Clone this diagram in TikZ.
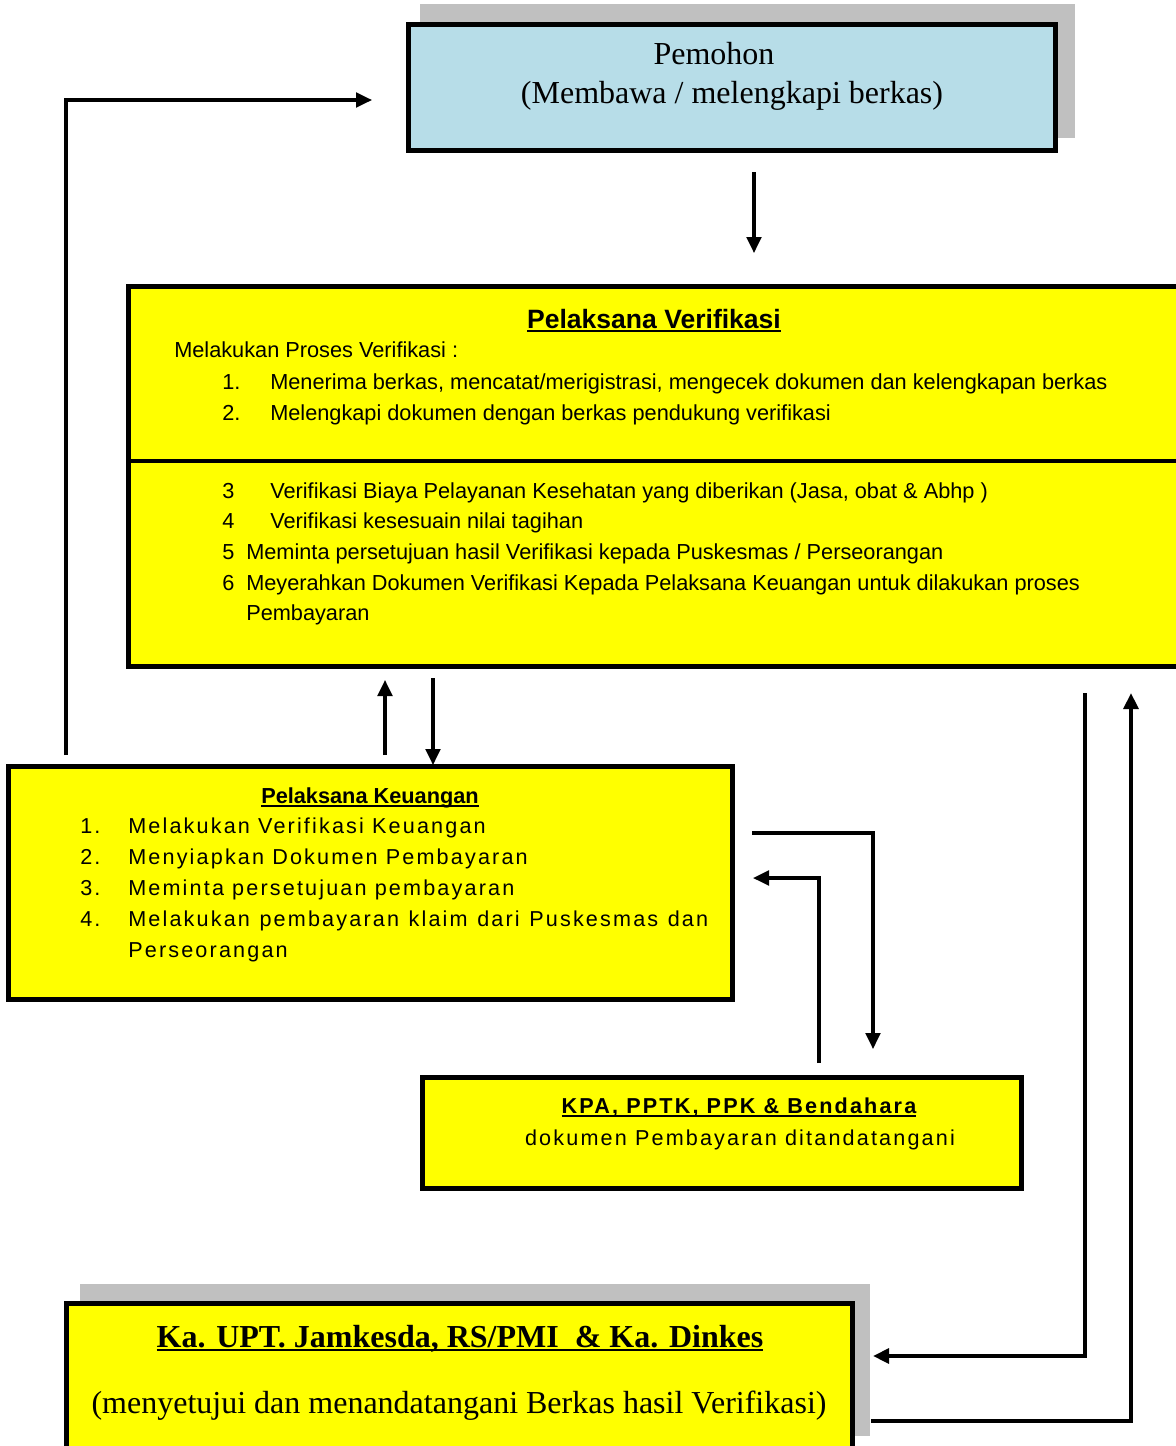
\documentclass[tikz,border=0pt]{standalone}
\usepackage{fontspec}
\setmainfont{Liberation Serif}
\setsansfont{Liberation Sans}
\newfontfamily\spasi[LetterSpace=10.0]{Liberation Sans}
\usetikzlibrary{arrows.meta,fit}

\definecolor{kuning}{HTML}{FFFF00}
\definecolor{birumuda}{HTML}{B7DDE8}
\definecolor{bayang}{HTML}{C0C0C0}

% garis bawah tebal seperti di Word
\newcommand{\gbawah}[1]{\setbox0=\hbox{#1}\rlap{\rule[-3pt]{\wd0}{1.5pt}}\box0}

\begin{document}
\begin{tikzpicture}[x=0.75pt,y=-0.75pt,
  kotak/.style={draw=black, line width=3.6pt, inner sep=0pt},
  panah/.style={line width=2.3pt, -{Triangle[length=12pt,width=11pt]}},
  serif/.style={anchor=base, inner sep=0pt, font=\fontsize{24}{28}\selectfont},
  judul/.style={anchor=base, inner sep=0pt, font=\sffamily\bfseries\fontsize{19.9}{23}\selectfont},
  judulkecil/.style={anchor=base, inner sep=0pt, font=\sffamily\bfseries\fontsize{16.3}{19}\selectfont},
  isi/.style={anchor=base west, inner sep=0pt, font=\sffamily\fontsize{16.3}{19}\selectfont},
  isispasi/.style={inner sep=0pt, font=\spasi\fontsize{16.2}{19}\selectfont}]
\useasboundingbox (0,0) rectangle (1176,1446);
\clip (0,0) rectangle (1176,1446);

% Pemohon
\fill[bayang] (420,4) rectangle (1075,138);
\node[kotak, fill=birumuda, fit={(408.5,24.5) (1055.5,150.5)}] (pem) {};
\node[serif] (pemA) at (714,64) {Pemohon};
\node[serif] (pemB) at (732,103) {(Membawa / melengkapi berkas)};

% Pelaksana Verifikasi
\node[kotak, fill=kuning, fit={(128.5,286.5) (1210,666.5)}] (ver) {};
\coordinate (pisah) at (0,461);
\draw[line width=3.6pt] (ver.west |- pisah) -- (ver.east |- pisah);
\node[judul] (verJudul) at (654,328) {\gbawah{Pelaksana Verifikasi}};
\node[isi] (verIntro) at (174,357) {Melakukan Proses Verifikasi :};
  \node[isi] (verN1) at (222,389) {1.};
  \node[isi] (verT1) at (270,389) {Menerima berkas, mencatat/merigistrasi, mengecek dokumen dan kelengkapan berkas};
  \node[isi] (verN2) at (222,420) {2.};
  \node[isi] (verT2) at (270,420) {Melengkapi dokumen dengan berkas pendukung verifikasi};
  \node[isi] (verN3) at (222,498) {3};
  \node[isi] (verT3) at (270,498) {Verifikasi Biaya Pelayanan Kesehatan yang diberikan (Jasa, obat \& Abhp )};
  \node[isi] (verN4) at (222,528) {4};
  \node[isi] (verT4) at (270,528) {Verifikasi kesesuain nilai tagihan};
  \node[isi] (verN5) at (222,559) {5};
  \node[isi] (verT5) at (246,559) {Meminta persetujuan hasil Verifikasi kepada Puskesmas / Perseorangan};
  \node[isi] (verN6) at (222,590) {6};
  \node[isi] (verT6) at (246,590) {Meyerahkan Dokumen Verifikasi Kepada Pelaksana Keuangan untuk dilakukan proses};
  \node[isi] (verT6b) at (246,620) {Pembayaran};

% Pelaksana Keuangan
\node[kotak, fill=kuning, fit={(8.5,766.5) (732.5,999.5)}] (keu) {};
\node[judulkecil] (keuJudul) at (370,803) {\gbawah{Pelaksana Keuangan}};
  \node[isispasi, anchor=base west] (keuN1) at (80,833) {1.};
  \node[isispasi, anchor=base west] (keuT1) at (128,833) {Melakukan Verifikasi Keuangan};
  \node[isispasi, anchor=base west] (keuN2) at (80,864) {2.};
  \node[isispasi, anchor=base west] (keuT2) at (128,864) {Menyiapkan Dokumen Pembayaran};
  \node[isispasi, anchor=base west] (keuN3) at (80,895) {3.};
  \node[isispasi, anchor=base west] (keuT3) at (128,895) {Meminta persetujuan pembayaran};
  \node[isispasi, anchor=base west] (keuN4) at (80,926) {4.};
  \node[isispasi, anchor=base west] (keuT4) at (128,926) {\makebox[435pt][s]{Melakukan pembayaran klaim dari Puskesmas dan}};
  \node[isispasi, anchor=base west] (keuT4b) at (128,957) {Perseorangan};

% KPA, PPTK, PPK & Bendahara
\node[kotak, fill=kuning, fit={(422.5,1077.5) (1021.5,1188.5)}] (kpa) {};
\node[isispasi, anchor=base, font=\spasi\bfseries\fontsize{16.2}{19}\selectfont] (kpaJudul) at (739,1113) {\gbawah{KPA, PPTK, PPK \& Bendahara}};
\node[isispasi, anchor=base] (kpaIsi) at (740,1145) {dokumen Pembayaran ditandatangani};

% Ka. UPT
\fill[bayang] (80,1284) rectangle (870,1436);
\node[kotak, fill=kuning, fit={(66.5,1303.5) (852.5,1480)}] (upt) {};
\node[serif, font=\bfseries\fontsize{24}{28}\selectfont] (uptJudul) at (460,1347) {\gbawah{Ka. UPT. Jamkesda, RS/PMI \ \& Ka. Dinkes}};
\node[serif] (uptIsi) at (459,1413) {(menyetujui dan menandatangani Berkas hasil Verifikasi)};

% titik ujung panah
\coordinate (a1) at (754,172);
\coordinate (a2) at (754,253);
\coordinate (b1) at (66,755);
\coordinate (b2) at (372,100);
\coordinate (c1) at (385,755);
\coordinate (c2) at (385,680);
\coordinate (d1) at (433,678);
\coordinate (d2) at (433,765);
\coordinate (e1) at (752,833);
\coordinate (e2) at (873,1049);
\coordinate (f1) at (819,1063);
\coordinate (f2) at (753,878);
\coordinate (g1) at (1085,693);
\coordinate (g2) at (873,1356);
\coordinate (h1) at (871,1421);
\coordinate (h2) at (1131,693);

\draw[panah] (a1) -- (a2);
\draw[panah] (b1) |- (b2);
\draw[panah] (c1) -- (c2);
\draw[panah] (d1) -- (d2);
\draw[panah] (e1) -| (e2);
\draw[panah] (f1) |- (f2);
\draw[panah, line width=3pt] (g1) |- (g2);
\draw[panah, line width=3pt] (h1) -| (h2);
\end{tikzpicture}
\end{document}
